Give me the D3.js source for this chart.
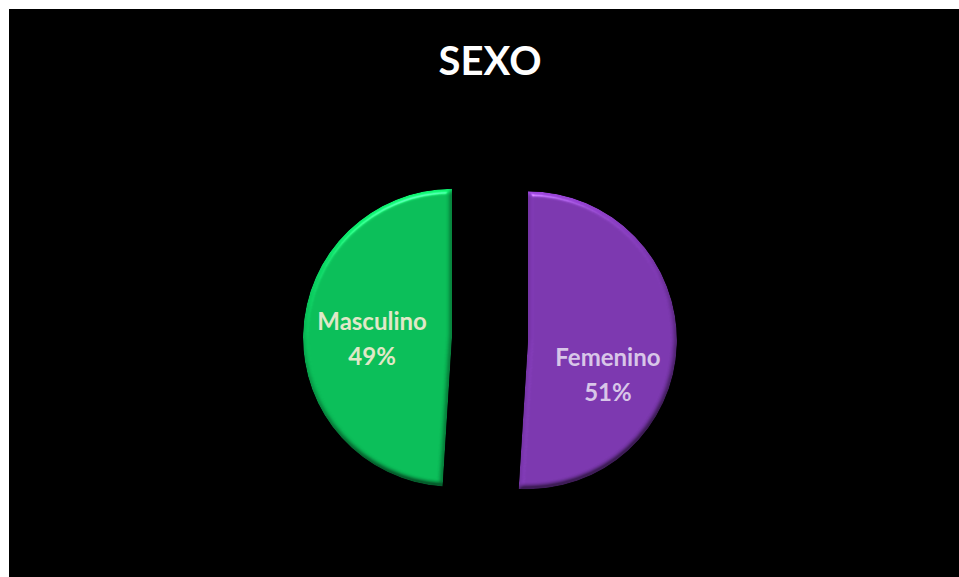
<!DOCTYPE html>
<html>
<head>
<meta charset="utf-8">
<script src="https://cdn.jsdelivr.net/npm/d3@7"></script>
<style>
  html, body { margin: 0; padding: 0; background: #ffffff; }
  svg { display: block; }
</style>
</head>
<body>
<svg id="chart" width="959" height="577"></svg>
<script>
// Distribución por sexo
const title = "SEXO";
const categories = ["Femenino", "Masculino"];
const values = [51, 49];
const sliceColors = ["#7b37ae", "#0abd58"];
const labelColors = ["#d8c6e8", "#e0e8c8"];

const W = 959, H = 577;
const svg = d3.select("#chart");

// black plot card
svg.append("rect")
  .attr("x", 9).attr("y", 9)
  .attr("width", W - 9).attr("height", H - 9)
  .attr("fill", "#000");

// bevel effect for the slices: shade the fill by a lit, blurred alpha
const elev = 40;
const flat = Math.sin(elev * Math.PI / 180);
const defs = svg.append("defs");
const f = defs.append("filter").attr("id", "bevel")
  .attr("color-interpolation-filters", "sRGB")
  .attr("x", "-10%").attr("y", "-10%").attr("width", "120%").attr("height", "120%");
f.append("feGaussianBlur").attr("in", "SourceAlpha").attr("stdDeviation", 2.5).attr("result", "blur");
const light = f.append("feDiffuseLighting")
  .attr("in", "blur").attr("surfaceScale", 4).attr("diffuseConstant", 1)
  .attr("lighting-color", "#ffffff").attr("result", "diff");
light.append("feDistantLight").attr("azimuth", 255).attr("elevation", elev);
// multiplicative shading blended with the plain fill
const t = 0.5;
f.append("feComposite").attr("in", "SourceGraphic").attr("in2", "diff")
  .attr("operator", "arithmetic")
  .attr("k1", t / flat).attr("k2", 1 - t).attr("k3", 0).attr("k4", 0)
  .attr("result", "shade");
// soft white highlight on edges facing the light
const spec = f.append("feSpecularLighting")
  .attr("in", "blur").attr("surfaceScale", 4).attr("specularConstant", 0.6)
  .attr("specularExponent", 40).attr("lighting-color", "#ffffff").attr("result", "spec");
spec.append("feDistantLight").attr("azimuth", 255).attr("elevation", elev);
f.append("feComposite").attr("in", "shade").attr("in2", "spec")
  .attr("operator", "arithmetic")
  .attr("k1", 0).attr("k2", 1).attr("k3", 0.5).attr("k4", 0)
  .attr("result", "lit");
f.append("feComposite").attr("in", "lit").attr("in2", "SourceAlpha").attr("operator", "in");

// title
svg.append("text")
  .attr("x", 490).attr("y", 75)
  .attr("text-anchor", "middle")
  .attr("font-family", "Lato, 'Open Sans', sans-serif")
  .attr("font-weight", 700)
  .attr("font-size", 40)
  .attr("fill", "#ffffff")
  .text(title);

// pie layout
const cx = 490, cy = 339, radius = 149, explode = 38;
const data = categories.map((c, i) => ({ cat: c, value: values[i], color: sliceColors[i], lc: labelColors[i] }));
const pie = d3.pie().sort(null).value(d => d.value);
const arcs = pie(data);
const arc = d3.arc().innerRadius(0).outerRadius(radius);

const g = svg.append("g").attr("transform", `translate(${cx},${cy})`);

const slice = g.selectAll("g.slice").data(arcs).enter().append("g")
  .attr("class", "slice")
  .attr("transform", d => {
    const a = (d.startAngle + d.endAngle) / 2;
    return `translate(${Math.sin(a) * explode},${-Math.cos(a) * explode})`;
  });

slice.append("path")
  .attr("d", arc)
  .attr("fill", d => d.data.color)
  .attr("filter", "url(#bevel)");

// data labels
const labelRadius = 80;
const labelNudge = { "Femenino": 32, "Masculino": 4 };
const lbl = slice.append("text")
  .attr("text-anchor", "middle")
  .attr("font-family", "Lato, 'Open Sans', sans-serif")
  .attr("font-weight", 700)
  .attr("font-size", 24)
  .attr("fill", d => d.data.lc)
  .attr("transform", d => {
    const a = (d.startAngle + d.endAngle) / 2;
    return `translate(${Math.sin(a) * labelRadius},${-Math.cos(a) * labelRadius + labelNudge[d.data.cat]})`;
  });
lbl.append("tspan").attr("x", 0).attr("y", -9).text(d => d.data.cat);
lbl.append("tspan").attr("x", 0).attr("y", 26).text(d => d.data.value + "%");
</script>
</body>
</html>
